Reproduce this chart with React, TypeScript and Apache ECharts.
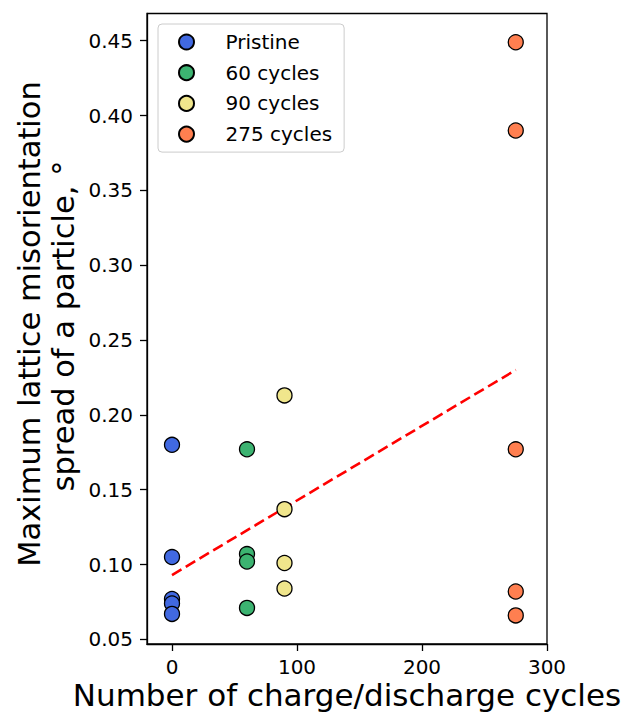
import React, { useEffect, useRef } from "react";
import * as echarts from "echarts";

const FONT = "DejaVu Sans";

const pristineX = [0, 0, 0, 0, 0];
const pristineY = [0.18, 0.105, 0.077, 0.074, 0.067];
const cycles60X = [60, 60, 60, 60];
const cycles60Y = [0.177, 0.107, 0.102, 0.071];
const cycles90X = [90, 90, 90, 90];
const cycles90Y = [0.213, 0.137, 0.101, 0.084];
const cycles275X = [275, 275, 275, 275, 275];
const cycles275Y = [0.449, 0.39, 0.177, 0.082, 0.066];
const trendX = [0, 275];
const trendY = [0.093, 0.23];

const xTicks = [0, 100, 200, 300];
const yTicks = [0.05, 0.1, 0.15, 0.2, 0.25, 0.3, 0.35, 0.4, 0.45];

const seriesNames = ["Pristine", "60 cycles", "90 cycles", "275 cycles"];
const seriesColors = ["#4169E1", "#3CB371", "#F0E68C", "#FF7F50"];

const xLabel = "Number of charge/discharge cycles";
const yLabel1 = "Maximum lattice misorientation";
const yLabel2 = "spread of a particle, °";

const zip = (xs: number[], ys: number[]) => xs.map((x, i) => [x, ys[i]]);

export default function App() {
  const ref = useRef<HTMLDivElement>(null);
  useEffect(() => {
    if (!ref.current) return;
    const chart = echarts.init(ref.current, undefined, { renderer: "svg" });
    const groups = [
      zip(pristineX, pristineY),
      zip(cycles60X, cycles60Y),
      zip(cycles90X, cycles90Y),
      zip(cycles275X, cycles275Y),
    ];
    chart.setOption({
      animation: false,
      backgroundColor: "#ffffff",
      grid: {
        left: 147,
        right: 77,
        top: 13.5,
        bottom: 72,
        show: true,
        borderColor: "#000",
        borderWidth: 1.3,
        containLabel: false,
      },
      xAxis: {
        type: "value",
        min: -20,
        max: 300,
        splitLine: { show: false },
        axisLine: { show: true, onZero: false, lineStyle: { color: "#000", width: 1.3 } },
        axisTick: {
          show: true,
          inside: false,
          length: 7,
          lineStyle: { color: "#000", width: 1.3 },
          customValues: xTicks,
        },
        axisLabel: {
          customValues: xTicks,
          fontSize: 20,
          lineHeight: 20,
          fontFamily: FONT,
          color: "#000",
          margin: 13,
          formatter: (v: number) => String(v),
        },
      },
      yAxis: {
        type: "value",
        min: 0.0469,
        max: 0.4682,
        splitLine: { show: false },
        axisLine: { show: true, onZero: false, lineStyle: { color: "#000", width: 1.3 } },
        axisTick: {
          show: true,
          inside: false,
          length: 7,
          lineStyle: { color: "#000", width: 1.3 },
          customValues: yTicks,
        },
        axisLabel: {
          customValues: yTicks,
          fontSize: 20,
          fontFamily: FONT,
          color: "#000",
          margin: 14,
          formatter: (v: number) => v.toFixed(2),
        },
      },
      legend: {
        orient: "vertical",
        left: 158,
        top: 24,
        padding: [8, 12, 8, 20],
        itemWidth: 30,
        itemHeight: 15,
        itemGap: 10.7,
        icon: "circle",
        backgroundColor: "rgba(255,255,255,0.8)",
        borderColor: "#cccccc",
        borderWidth: 1,
        borderRadius: 4,
        textStyle: {
          fontSize: 20,
          fontFamily: FONT,
          color: "#000",
          lineHeight: 20,
          padding: [0, 0, 0, 19],
        },
        data: seriesNames,
      },
      graphic: [
        {
          type: "text",
          x: 29,
          y: 324,
          rotation: Math.PI / 2,
          style: {
            text: yLabel1,
            fontSize: 30.5,
            fontFamily: FONT,
            fill: "#000",
            textAlign: "center",
            textVerticalAlign: "middle",
          },
        },
        {
          type: "text",
          x: 63,
          y: 326,
          rotation: Math.PI / 2,
          style: {
            text: yLabel2,
            fontSize: 30.5,
            fontFamily: FONT,
            fill: "#000",
            textAlign: "center",
            textVerticalAlign: "middle",
          },
        },
        {
          type: "text",
          x: 347,
          y: 695,
          style: {
            text: xLabel,
            fontSize: 31,
            lineHeight: 31,
            fontFamily: FONT,
            fill: "#000",
            textAlign: "center",
            textVerticalAlign: "middle",
          },
        },
      ],
      series: [
        {
          type: "line",
          data: zip(trendX, trendY),
          symbol: "none",
          showSymbol: false,
          silent: true,
          z: 1,
          lineStyle: { color: "#ff0000", width: 2.6, type: [11, 5] },
        },
        ...seriesNames.map((name, i) => ({
          type: "scatter",
          name,
          data: groups[i],
          symbol: "circle",
          symbolSize: 15,
          z: 3,
          itemStyle: {
            color: seriesColors[i],
            borderColor: "#000",
            borderWidth: 1.3,
            opacity: 1,
          },
        })),
      ],
    });
    return () => chart.dispose();
  }, []);
  return (
    <div
      ref={ref}
      style={{ position: "fixed", left: 0, top: 0, width: 624, height: 716 }}
    />
  );
}
